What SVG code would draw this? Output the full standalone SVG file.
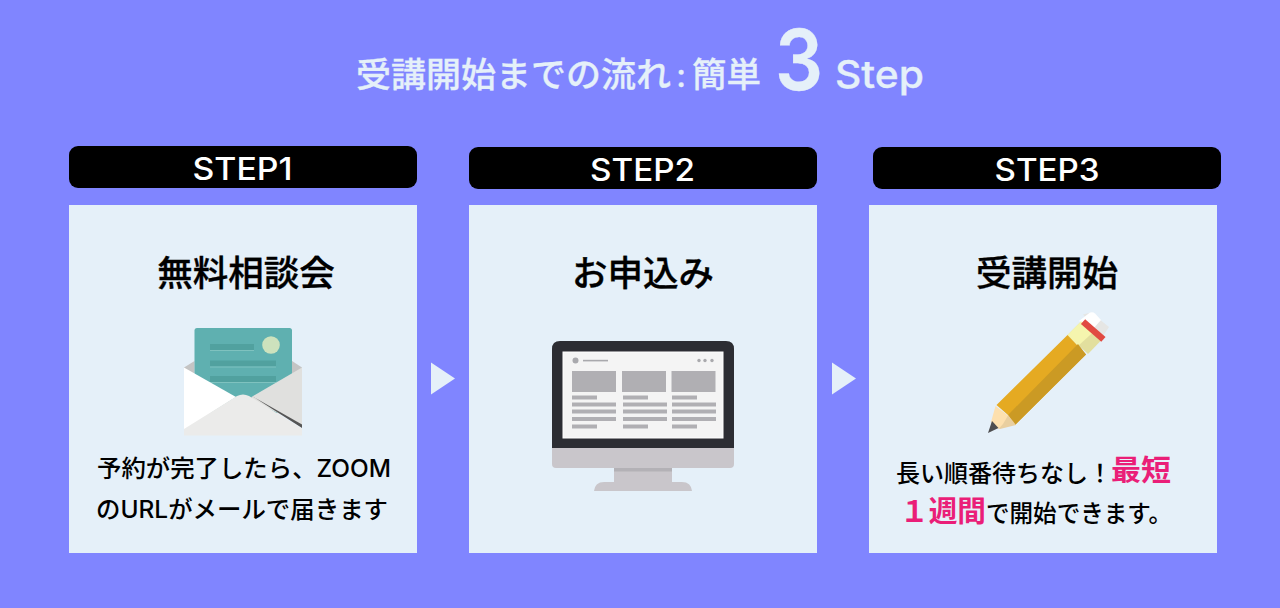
<svg xmlns="http://www.w3.org/2000/svg" width="1280" height="608" viewBox="0 0 1280 608">
<style>
text{font-family:"Inter","Liberation Sans","Noto Sans CJK JP",sans-serif}
.jp{font-family:"Inter","Noto Sans CJK JP","Liberation Sans",sans-serif}
.pill{fill:#000}
.card{fill:#e5f0f9}
.step{fill:#fff;font-size:31.500px;font-weight:500;text-anchor:middle}
.head{fill:#000;stroke:#000;stroke-width:.35px;font-size:35.500px;font-weight:500;text-anchor:middle}
.body{fill:#000;font-size:24px;font-weight:500}
.em{fill:#ea1e78;font-weight:700;font-size:29px}
.title{fill:#e5f0f9;stroke:#e5f0f9;stroke-width:.3px;font-weight:500}
.big{font-weight:600}
.arrow{fill:#e5f0f9}
.g1{fill:#a9a9ad}.g2{fill:#b0afb3}
</style>
<rect width="1280" height="608" fill="#8085ff"/>
<g id="title">
<text class="title jp" x="356" y="87" font-size="34.500" textLength="315" lengthAdjust="spacingAndGlyphs">受講開始までの流れ</text>
<text class="title jp" x="681" y="87" font-size="32" text-anchor="middle">:</text>
<text class="title jp" x="692" y="87" font-size="34.500" textLength="69" lengthAdjust="spacingAndGlyphs">簡単</text>
<text class="title big" x="775" y="90" font-size="84" textLength="48" lengthAdjust="spacingAndGlyphs">3</text>
<text class="title" x="835" y="88" font-size="38" textLength="89" lengthAdjust="spacingAndGlyphs">Step</text>
</g>
<g id="step1">
<rect class="pill" x="69" y="146" width="348" height="42" rx="9"/>
<text class="step" x="242.500" y="179.500" textLength="100" lengthAdjust="spacingAndGlyphs">STEP1</text>
<rect class="card" x="69" y="205" width="348" height="348"/>
<text class="head jp" x="246" y="286">無料相談会</text>
<g id="envelope">
<path d="M184 367.500L194.500 361V375H184Z" fill="#c4c4c4"/><path d="M302 367.500L292 361V375H302Z" fill="#c4c4c4"/>
<rect x="194.500" y="328" width="97.500" height="85" rx="2.500" fill="#5fb0b0"/>
<rect x="210" y="344" width="44" height="6" fill="#51a19f"/><rect x="210" y="350" width="44" height="1" fill="#7fc2bf"/>
<rect x="210" y="360.500" width="66" height="6" fill="#51a19f"/><rect x="210" y="366.500" width="66" height="1" fill="#7fc2bf"/>
<rect x="210" y="376" width="66" height="6" fill="#51a19f"/><rect x="210" y="382" width="66" height="1" fill="#7fc2bf"/>
<circle cx="271" cy="345" r="8.800" fill="#cde2bd"/>
<path d="M251.500 397L302 367.500V425L251.500 400Z" fill="#e0e0de"/>
<path d="M184 367.500L236 397L184 430Z" fill="#fff"/>
<path d="M252 396L302 428V424.500Z" fill="#555"/>
<path d="M184 429L237 396Q243 393 249 396L302 428.500V435.500H184Z" fill="#ebebea"/>
</g>
<text class="body jp" x="97" y="477" textLength="294" lengthAdjust="spacingAndGlyphs">予約が完了したら、ZOOM</text>
<text class="body jp" x="96" y="518" textLength="292" lengthAdjust="spacingAndGlyphs">のURLがメールで届きます</text>
</g>
<g id="step2">
<rect class="pill" x="469" y="147" width="348" height="42" rx="9"/>
<text class="step" x="642.500" y="180.500" textLength="105" lengthAdjust="spacingAndGlyphs">STEP2</text>
<rect class="card" x="469" y="205" width="348" height="348"/>
<text class="head jp" x="643" y="286">お申込み</text>
<g id="monitor">
<path d="M552 448V349Q552 341 560 341H726Q734 341 734 349V448Z" fill="#2c2d33"/>
<path d="M552 448H734V464Q734 468 730 468H556Q552 468 552 464Z" fill="#c9c6cb"/>
<rect x="562.500" y="351.500" width="161" height="87" fill="#fff"/>
<rect x="563.500" y="352.500" width="159" height="85" fill="#f4f4f4"/>
<circle cx="575.500" cy="360.500" r="3" class="g1"/><rect x="583" y="359.800" width="25" height="1.600" class="g1"/>
<circle cx="699" cy="360.500" r="1.700" class="g1"/><circle cx="705" cy="360.500" r="1.700" class="g1"/><circle cx="712" cy="360.500" r="1.700" class="g1"/>
<rect x="572" y="371" width="44" height="21" class="g2"/><rect x="622" y="371" width="44" height="21" class="g2"/><rect x="671.500" y="371" width="44" height="21" class="g2"/>
<rect x="572" y="395.500" width="25" height="4" class="g2"/><rect x="572" y="402.500" width="44" height="4" class="g2"/><rect x="572" y="409.500" width="44" height="4" class="g2"/><rect x="572" y="417" width="44" height="4" class="g2"/><rect x="572" y="424.500" width="25" height="4" class="g2"/>
<rect x="623" y="395.500" width="25" height="4" class="g2"/><rect x="623" y="402.500" width="44" height="4" class="g2"/><rect x="623" y="409.500" width="44" height="4" class="g2"/><rect x="623" y="417" width="44" height="4" class="g2"/><rect x="623" y="424.500" width="25" height="4" class="g2"/>
<rect x="672" y="395.500" width="25" height="4" class="g2"/><rect x="672" y="402.500" width="44" height="4" class="g2"/><rect x="672" y="409.500" width="44" height="4" class="g2"/><rect x="672" y="417" width="44" height="4" class="g2"/><rect x="672" y="424.500" width="25" height="4" class="g2"/>
<rect x="614" y="468" width="58" height="14" fill="#c9c6cb"/><rect x="614" y="468" width="58" height="3.500" fill="#b3b1b6"/>
<path d="M594 491Q595 482 604 482H682Q691 482 692 491Z" fill="#c9c6cb"/>
</g>
</g>
<g id="step3">
<rect class="pill" x="873" y="147" width="348" height="42" rx="9"/>
<text class="step" x="1047" y="180.500" textLength="105" lengthAdjust="spacingAndGlyphs">STEP3</text>
<rect class="card" x="869" y="205" width="348" height="348"/>
<text class="head jp" x="1047" y="286">受講開始</text>
<g id="pencil">
<path d="M1083 314.500L1091 312.500L1109 327L1103 336Z" fill="#e6e6e4"/>
<path d="M1079 321L1090 312.500Q1093 311.500 1095 313.500L1101 320L1093 329Z" fill="#fff"/>
<path d="M1067.500 335L1081 321.500L1102 339.500L1088 354Z" fill="#e2df9e"/>
<path d="M1067.500 335L1081 321.500L1094.500 331L1078 346Z" fill="#f5f5ae"/>
<rect x="1080" y="327" width="27" height="6.500" transform="rotate(41 1093 330)" fill="#e14a42"/>
<path d="M996.500 405L1067.500 335L1086 354.500L1015 425L1008 415Z" fill="#e5aa22"/>
<path d="M1078 344L1086 354.500L1015 425L1008 415Z" fill="#cb9a24"/>
<path d="M1008 415L1016 425L1000 429L998 428L1003 421Z" fill="#e9cfa0"/>
<path d="M995.500 406L1008 415.500L1003 424L998.500 429L991 422Z" fill="#fde0ae"/>
<path d="M992 421L998.500 428L988 433Z" fill="#4e4e50"/>
</g>
<text class="body jp" x="896" y="482" textLength="216" lengthAdjust="spacingAndGlyphs">長い順番待ちなし！</text>
<text class="jp em" x="1111" y="481" textLength="60" lengthAdjust="spacingAndGlyphs">最短</text>
<text class="jp em" x="900" y="522" textLength="86" lengthAdjust="spacingAndGlyphs">１週間</text>
<text class="body jp" x="986" y="522" textLength="186" lengthAdjust="spacingAndGlyphs">で開始できます。</text>
</g>
<g id="connectors">
<path class="arrow" d="M431 362.500L455 378.500L431 394.500Z"/>
<path class="arrow" d="M832 362.500L856 378.500L832 394.500Z"/>
</g>
</svg>
